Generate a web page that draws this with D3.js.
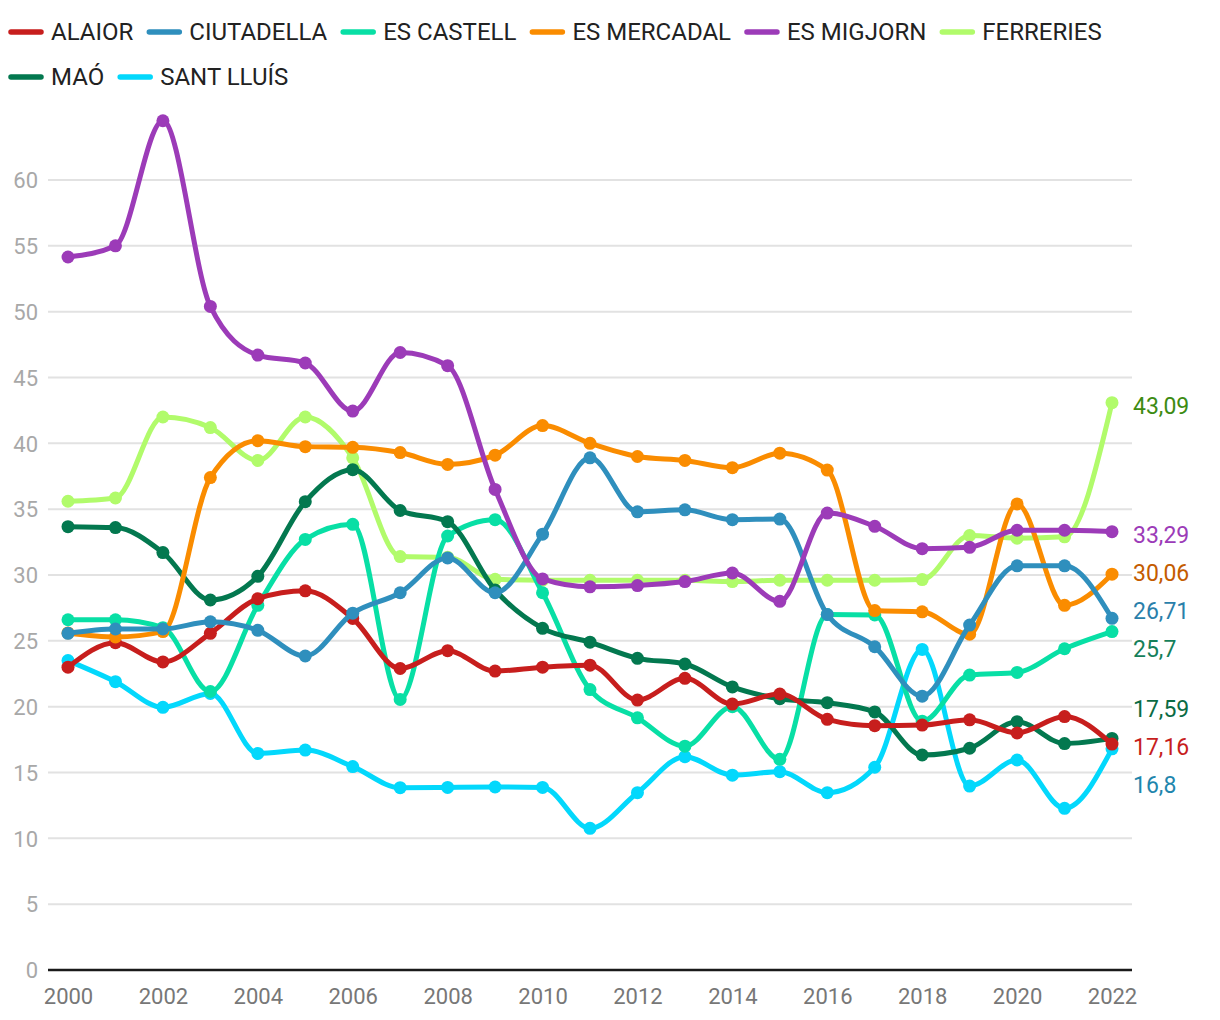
<!DOCTYPE html>
<html>
<head>
<meta charset="utf-8">
<script src="https://cdn.jsdelivr.net/npm/d3@7"></script>
<style>
  html, body { margin: 0; padding: 0; background: #fff; }
  svg { display: block; font-family: Roboto, "Noto Sans", sans-serif; }
</style>
</head>
<body>
<svg id="chart" width="1220" height="1020"></svg>
<script>
const years = [2000, 2001, 2002, 2003, 2004, 2005, 2006, 2007, 2008, 2009, 2010, 2011,
               2012, 2013, 2014, 2015, 2016, 2017, 2018, 2019, 2020, 2021, 2022];

const alaior     = [23.0, 24.86, 23.4, 25.57, 28.2, 28.8, 26.7, 22.9, 24.25, 22.7, 23.0, 23.15, 20.5, 22.15, 20.2, 20.96, 19.04, 18.56, 18.6, 19.0, 18.0, 19.25, 17.16];
const ciutadella = [25.57, 25.9, 25.9, 26.45, 25.8, 23.85, 27.1, 28.65, 31.3, 28.65, 33.1, 38.9, 34.8, 34.95, 34.2, 34.25, 27.0, 24.55, 20.8, 26.2, 30.7, 30.7, 26.71];
const esCastell  = [26.6, 26.6, 26.0, 21.15, 27.7, 32.7, 33.85, 20.55, 32.96, 34.2, 28.65, 21.3, 19.15, 17.0, 20.0, 16.0, 27.0, 26.96, 18.9, 22.4, 22.6, 24.4, 25.7];
const esMercadal = [25.6, 25.3, 25.7, 37.4, 40.2, 39.75, 39.7, 39.3, 38.4, 39.1, 41.35, 40.0, 39.0, 38.7, 38.15, 39.25, 37.97, 27.3, 27.2, 25.5, 35.4, 27.7, 30.06];
const esMigjorn  = [54.15, 55.0, 64.5, 50.4, 46.7, 46.1, 42.45, 46.9, 45.9, 36.5, 29.7, 29.1, 29.2, 29.5, 30.15, 28.0, 34.7, 33.7, 32.0, 32.1, 33.4, 33.4, 33.29];
const ferreries  = [35.6, 35.85, 42.0, 41.2, 38.7, 42.0, 38.9, 31.4, 31.35, 29.67, 29.6, 29.6, 29.6, 29.6, 29.5, 29.6, 29.6, 29.6, 29.65, 33.0, 32.8, 32.9, 43.09];
const mao        = [33.67, 33.6, 31.7, 28.1, 29.9, 35.57, 38.0, 34.9, 34.05, 28.86, 25.95, 24.9, 23.67, 23.24, 21.5, 20.6, 20.3, 19.6, 16.33, 16.84, 18.86, 17.2, 17.59];
const santLluis  = [23.5, 21.9, 19.95, 21.0, 16.45, 16.7, 15.45, 13.85, 13.87, 13.9, 13.87, 10.76, 13.47, 16.2, 14.8, 15.06, 13.47, 15.4, 24.35, 13.97, 15.95, 12.28, 16.8];

const seriesNames  = ["ALAIOR", "CIUTADELLA", "ES CASTELL", "ES MERCADAL", "ES MIGJORN", "FERRERIES", "MAÓ", "SANT LLUÍS"];
const seriesValues = [alaior, ciutadella, esCastell, esMercadal, esMigjorn, ferreries, mao, santLluis];
const lineColors   = ["#c71e1d", "#2f8fbd", "#08dfa5", "#fa8c00", "#9c3bb8", "#b1fb6b", "#03784f", "#03d8fc"];
const labelColors  = ["#c71e1d", "#2a7fab", "#15805a", "#c45c00", "#9c3bb8", "#3d8b12", "#0b6b44", "#1f86ad"];
const drawOrder    = [5, 7, 2, 6, 0, 3, 1, 4];

const yTicks = [0, 5, 10, 15, 20, 25, 30, 35, 40, 45, 50, 55, 60];
const xTicks = [2000, 2002, 2004, 2006, 2008, 2010, 2012, 2014, 2016, 2018, 2020, 2022];

const svg = d3.select("#chart");

const x = d3.scaleLinear().domain([2000, 2022]).range([68, 1112]);
const y = d3.scaleLinear().domain([0, 60]).range([970, 180]);
const gridX0 = 48, gridX1 = 1132;

// Legend
const legend = svg.append("g");
let lx = 10, ly = 32;
seriesNames.forEach((name, i) => {
  const g = legend.append("g");
  g.append("line").attr("x1", 0).attr("x2", 30).attr("y1", 0).attr("y2", 0)
    .attr("stroke", lineColors[i]).attr("stroke-width", 5.5).attr("stroke-linecap", "round");
  const t = g.append("text").attr("x", 40).attr("y", 0).attr("dy", "0.35em")
    .attr("font-size", 24).attr("fill", "#222").text(name);
  const w = 40 + t.node().getComputedTextLength();
  if (lx + w > 1200) { lx = 10; ly += 45; }
  g.attr("transform", `translate(${lx + 1},${ly})`);
  lx += w + 16;
});

// Grid
const grid = svg.append("g");
grid.selectAll("line").data(yTicks.filter(d => d > 0)).join("line")
  .attr("x1", gridX0).attr("x2", gridX1)
  .attr("y1", d => y(d)).attr("y2", d => y(d))
  .attr("stroke", "#e2e2e2").attr("stroke-width", 2);

// Y axis labels
const yAxis = d3.axisLeft(y).tickValues(yTicks).tickSize(0).tickPadding(0).tickFormat(d3.format("d"));
const yg = svg.append("g").attr("transform", `translate(38,0)`).call(yAxis);
yg.select(".domain").remove();
yg.selectAll("text").attr("font-size", 22).attr("fill", "#a8a8a8")
  .attr("font-family", "Roboto, sans-serif").attr("dy", "0.35em");

// X axis
const xAxis = d3.axisBottom(x).tickValues(xTicks).tickSize(0).tickPadding(0).tickFormat(d3.format("d"));
const xg = svg.append("g").attr("transform", `translate(0,${y(0)})`).call(xAxis);
xg.select(".domain").remove();
xg.selectAll("text").attr("font-size", 22).attr("fill", "#777")
  .attr("font-family", "Roboto, sans-serif").attr("y", 34).attr("dy", 0);
svg.append("line").attr("x1", gridX0).attr("x2", gridX1).attr("y1", y(0)).attr("y2", y(0))
  .attr("stroke", "#1a1a1a").attr("stroke-width", 2.5);

// Lines
const lineGen = d3.line().x((d, i) => x(years[i])).y(d => y(d)).curve(d3.curveMonotoneX);
const linesG = svg.append("g");
drawOrder.forEach(si => {
  const vals = seriesValues[si];
  const g = linesG.append("g");
  g.append("path").attr("d", lineGen(vals)).attr("fill", "none")
    .attr("stroke", lineColors[si]).attr("stroke-width", 5)
    .attr("stroke-linejoin", "round").attr("stroke-linecap", "round");
  g.selectAll("circle").data(vals).join("circle")
    .attr("cx", (d, i) => x(years[i])).attr("cy", d => y(d)).attr("r", 6.5)
    .attr("fill", lineColors[si]);
});

// End labels with simple collision avoidance
const last = years.length - 1;
let labels = seriesNames.map((n, i) => ({ i, v: seriesValues[i][last], y: y(seriesValues[i][last]) }))
  .sort((a, b) => a.y - b.y);
const gap = 38;
let groups = labels.map(l => ({ items: [l], center: l.y }));
let changed = true;
while (changed) {
  changed = false;
  for (let k = 0; k < groups.length - 1; k++) {
    const a = groups[k], b = groups[k + 1];
    const aBottom = a.center + (a.items.length - 1) * gap / 2;
    const bTop = b.center - (b.items.length - 1) * gap / 2;
    if (bTop - aBottom < gap) {
      const items = a.items.concat(b.items);
      const center = d3.mean(items, d => d.y);
      groups.splice(k, 2, { items, center });
      changed = true;
      break;
    }
  }
}
groups.forEach(g => {
  g.items.forEach((l, j) => { l.ly = g.center + (j - (g.items.length - 1) / 2) * gap; });
});
svg.append("g").selectAll("text").data(labels).join("text")
  .attr("x", 1133).attr("y", d => d.ly + 3).attr("dy", "0.35em")
  .attr("font-size", 23).attr("fill", d => labelColors[d.i])
  .text(d => String(d.v).replace(".", ","));
</script>
</body>
</html>
